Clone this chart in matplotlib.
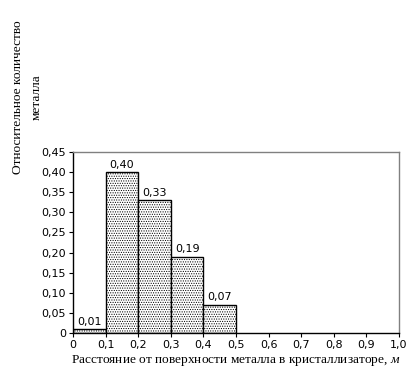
import matplotlib
matplotlib.use('Agg')
import matplotlib.pyplot as plt
from matplotlib.ticker import FuncFormatter

# Data
edges = [0.0, 0.1, 0.2, 0.3, 0.4]
values = [0.01, 0.40, 0.33, 0.19, 0.07]
labels = ['0,01', '0,40', '0,33', '0,19', '0,07']
width = 0.1

plt.rcParams['hatch.color'] = '#8c8c8c'
plt.rcParams['hatch.linewidth'] = 0.5
plt.rcParams['mathtext.fontset'] = 'custom'
plt.rcParams['mathtext.it'] = 'Liberation Serif:italic'
plt.rcParams['mathtext.rm'] = 'Liberation Serif'

fig = plt.figure(figsize=(4.17, 3.77), dpi=100)
ax = fig.add_axes([0.175, 0.1167, 0.782, 0.480])

bars = ax.bar(edges, values, width=width, align='edge', color='white',
              edgecolor='black', linewidth=1.0, hatch='.......')
for b, lab in zip(bars, labels):
    ax.text(b.get_x() + width / 2, b.get_height() + 0.006, lab,
            ha='center', va='bottom', fontsize=8, family='DejaVu Sans')

ax.set_xlim(0, 1.0)
ax.set_ylim(0, 0.45)
ax.set_xticks([i / 10 for i in range(11)])
ax.set_yticks([i * 0.05 for i in range(10)])

def fmt(v, pos):
    if abs(v) < 1e-9:
        return '0'
    return ('%.1f' % v).replace('.', ',')

def fmty(v, pos):
    if abs(v) < 1e-9:
        return '0'
    return ('%.2f' % v).replace('.', ',')

ax.xaxis.set_major_formatter(FuncFormatter(fmt))
ax.yaxis.set_major_formatter(FuncFormatter(fmty))
ax.tick_params(labelsize=8, length=3, width=0.8, pad=2)

for s in ['top', 'right']:
    ax.spines[s].set_color('#808080')
    ax.spines[s].set_linewidth(1.0)
for s in ['left', 'bottom']:
    ax.spines[s].set_color('black')
    ax.spines[s].set_linewidth(1.0)

ax.set_xlabel('Расстояние от поверхности металла в кристаллизаторе, $\\mathit{м}$',
              family='Liberation Serif', fontsize=9.6, labelpad=2)

fig.text(0.043, 0.743, 'Относительное количество', rotation=90,
         ha='center', va='center', family='Liberation Serif', fontsize=9.6)
fig.text(0.089, 0.743, 'металла', rotation=90,
         ha='center', va='center', family='Liberation Serif', fontsize=9.6)

fig.savefig('out.png', dpi=100)
